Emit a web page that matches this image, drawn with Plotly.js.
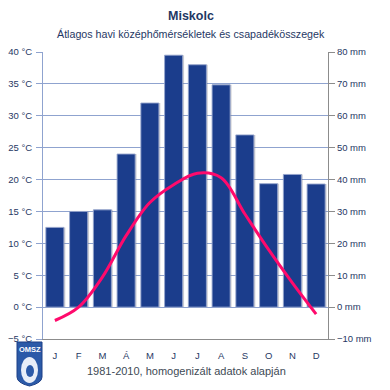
<!DOCTYPE html>
<html>
<head>
<meta charset="utf-8">
<script src="https://cdn.plot.ly/plotly-3.0.1.min.js"></script>
<style>html,body{margin:0;padding:0;background:#fff;}#chart{width:390px;height:390px;}</style>
</head>
<body>
<div id="chart"></div>
<script>
// Data
const monthLabels = ['J','F','M','Á','M','J','J','A','S','O','N','D'];
const monthIndex = [0,1,2,3,4,5,6,7,8,9,10,11];
const precipitation = [25, 30, 30.5, 48, 64, 79, 76, 69.7, 54, 38.7, 41.6, 38.6]; // mm
const temperature = [-2.1, 0.0, 4.7, 11.2, 16.4, 19.2, 21.0, 20.3, 14.6, 9.0, 3.8, -1.1]; // °C

const navy = '#1f3864';
const gridBlue = '#8fa3cf';
const gridLight = '#b9c8e6';
const fam = 'Liberation Sans, Arial, sans-serif';

const traces = [
  // shadow behind the bars
  {
    type: 'bar', x: monthIndex, y: precipitation, yaxis: 'y', xaxis: 'x',
    width: 0.8, offset: -0.36,
    marker: {color: 'rgba(120,120,130,0.35)', line: {width: 0}},
    hoverinfo: 'skip', showlegend: false
  },
  {
    type: 'bar', x: monthIndex, y: precipitation, yaxis: 'y', xaxis: 'x',
    width: 0.76, offset: -0.38,
    marker: {color: '#1b3d8c', line: {color: 'rgba(150,165,205,0.9)', width: 1}},
    hoverinfo: 'skip', showlegend: false
  },
  {
    type: 'scatter', mode: 'lines', x: monthIndex, y: temperature, yaxis: 'y2', xaxis: 'x',
    line: {color: '#ff0a6c', width: 3, shape: 'spline', smoothing: 1},
    hoverinfo: 'skip', showlegend: false
  }
];

const font = {family: fam, size: 9.5, color: navy};

const layout = {
  width: 390, height: 390,
  margin: {l: 43, r: 62, t: 52, b: 51},
  paper_bgcolor: '#fff', plot_bgcolor: '#fff',
  font: font,
  showlegend: false,
  barmode: 'overlay',
  xaxis: {
    range: [-0.5, 11.5], tickmode: 'array', tickvals: monthIndex, ticktext: monthLabels,
    showgrid: false, zeroline: false, showline: true, linecolor: '#8c8c8c', linewidth: 1,
    ticks: '', ticklabelstandoff: 8, tickfont: {family: fam, size: 9.5, color: navy},
    fixedrange: true
  },
  xaxis2: {
    overlaying: 'x', range: [-0.5, 11.5], tickmode: 'linear', tick0: 0.5, dtick: 1,
    showgrid: true, gridcolor: gridLight, gridwidth: 1, showticklabels: false,
    ticks: '', zeroline: false, showline: false, fixedrange: true
  },
  yaxis: {
    side: 'right', range: [-10, 80], dtick: 10, tick0: 0, ticksuffix: ' mm',
    showgrid: true, gridcolor: gridBlue, gridwidth: 1, zeroline: false,
    showline: true, linecolor: '#8c8c8c', linewidth: 1,
    ticks: 'outside', ticklen: 6, tickcolor: '#8c8c8c',
    tickfont: font, fixedrange: true
  },
  yaxis2: {
    overlaying: 'y', side: 'left', range: [-5, 40], dtick: 5, tick0: 0, ticksuffix: ' °C',
    showgrid: false, zeroline: false,
    showline: true, linecolor: gridBlue, linewidth: 1,
    ticks: 'outside', ticklen: 6, tickcolor: gridBlue, ticklabelstandoff: 2,
    tickfont: font, fixedrange: true
  },
  annotations: [
    {text: '<b>Miskolc</b>', xref: 'paper', yref: 'paper', x: (191-43)/285, y: 1 + (52-16)/287,
     showarrow: false, xanchor: 'center', yanchor: 'middle',
     font: {family: fam, size: 12.5, color: navy}},
    {text: 'Átlagos havi középhőmérsékletek és csapadékösszegek', xref: 'paper', yref: 'paper',
     x: (191-43)/285, y: 1 + (52-34)/287, showarrow: false, xanchor: 'center', yanchor: 'middle',
     font: {family: fam, size: 10.7, color: navy}},
    {text: '1981-2010, homogenizált adatok alapján', xref: 'paper', yref: 'paper',
     x: (186-43)/285, y: -(371-339)/287, showarrow: false, xanchor: 'center', yanchor: 'middle',
     font: {family: fam, size: 11, color: '#404a55'}},
    {text: '<b>OMSZ</b>', xref: 'paper', yref: 'paper',
     x: (29.5-43)/285, y: -(349-339)/287, showarrow: false, xanchor: 'center', yanchor: 'middle',
     font: {family: fam, size: 7.5, color: '#ffffff'}}
  ],
  shapes: [
    {type: 'path', xref: 'paper', yref: 'paper', layer: 'above',
     path: 'M ' + ((17-43)/285) + ',' + (-(342-339)/287) +
           ' L ' + ((42-43)/285) + ',' + (-(342-339)/287) +
           ' L ' + ((42-43)/285) + ',' + (-(377-339)/287) +
           ' Q ' + ((42-43)/285) + ',' + (-(383-339)/287) + ' ' + ((29.5-43)/285) + ',' + (-(386-339)/287) +
           ' Q ' + ((17-43)/285) + ',' + (-(383-339)/287) + ' ' + ((17-43)/285) + ',' + (-(377-339)/287) + ' Z',
     fillcolor: '#2b5aa8', line: {color: '#1d3f86', width: 1}},
    {type: 'circle', xref: 'paper', yref: 'paper', layer: 'above',
     x0: (21-43)/285, x1: (38-43)/285, y0: -(383-339)/287, y1: -(357-339)/287,
     fillcolor: '#e8eef8', line: {color: '#ffffff', width: 0}},
    {type: 'circle', xref: 'paper', yref: 'paper', layer: 'above',
     x0: (26-43)/285, x1: (34-43)/285, y0: -(377-339)/287, y1: -(365-339)/287,
     fillcolor: '#2b5aa8', line: {color: '#2b5aa8', width: 0}}
  ]
};

Plotly.newPlot('chart', traces, layout, {staticPlot: true, displayModeBar: false});
</script>
</body>
</html>
